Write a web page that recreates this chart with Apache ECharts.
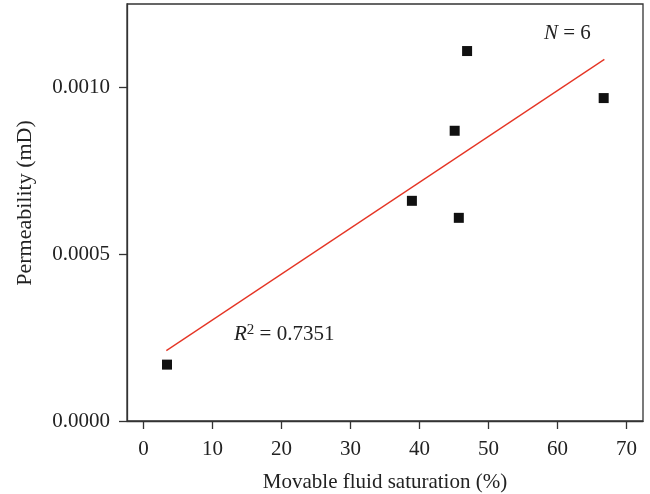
<!DOCTYPE html>
<html>
<head>
<meta charset="utf-8">
<script src="https://cdn.jsdelivr.net/npm/echarts@6/dist/echarts.min.js"></script>
<style>
  html, body { margin: 0; padding: 0; background: #fff; }
  #chart { width: 650px; height: 494px; }
</style>
</head>
<body>
<div id="chart"></div>
<script>
// Movable fluid saturation (%) vs permeability (mD)
const saturation = [3.4, 38.9, 45.1, 45.7, 46.9, 66.7];
const permeability = [0.000169, 0.00066, 0.00087, 0.000609, 0.001109, 0.000968];

// Linear fit endpoints
const fitX = [3.3, 66.8];
const fitY = [0.000211, 0.001084];

const xTicks = [0, 10, 20, 30, 40, 50, 60, 70];
const yTicks = [0, 0.0005, 0.0010];

const fontFamily = '"Liberation Serif", "DejaVu Serif", serif';
const ink = '#222';

const chart = echarts.init(document.getElementById('chart'), null, { renderer: 'canvas' });

chart.setOption({
  animation: false,
  backgroundColor: '#fff',
  textStyle: { fontFamily: fontFamily, color: ink },
  grid: {
    left: 127, right: 7, top: 4, bottom: 73,
    outerBoundsMode: 'none',
    containLabel: false,
    show: true, borderColor: '#333', borderWidth: 1.3, backgroundColor: 'transparent'
  },
  xAxis: {
    type: 'value',
    min: -2.4, max: 72.4,
    axisLine: { show: true, onZero: false, lineStyle: { color: '#333', width: 1.3 } },
    axisTick: { show: true, customValues: xTicks, length: 8, inside: false, lineStyle: { color: '#333', width: 1.3 } },
    axisLabel: { customValues: xTicks, margin: 18, fontSize: 21, color: ink, fontFamily: fontFamily },
    splitLine: { show: false },
    name: 'Movable fluid saturation (%)',
    nameLocation: 'middle',
    nameGap: 51,
    nameTextStyle: { fontSize: 21, color: ink, fontFamily: fontFamily }
  },
  yAxis: {
    type: 'value',
    min: 0, max: 0.00125,
    axisLine: { show: true, onZero: false, lineStyle: { color: '#333', width: 1.3 } },
    axisTick: { show: true, customValues: yTicks, length: 8, lineStyle: { color: '#333', width: 1.3 } },
    axisLabel: {
      customValues: yTicks, margin: 17, fontSize: 21, color: ink, fontFamily: fontFamily,
      formatter: v => v.toFixed(4)
    },
    splitLine: { show: false }
  },
  graphic: [
    {
      type: 'text', x: 25, y: 203, rotation: Math.PI / 2,
      style: { text: 'Permeability (mD)', font: '22px ' + fontFamily, fill: ink, textAlign: 'center', textVerticalAlign: 'middle' }
    },
    {
      type: 'text', x: 544, y: 33,
      style: {
        text: '{i|N} = 6',
        textVerticalAlign: 'middle',
        fill: ink,
        font: '21px ' + fontFamily,
        rich: { i: { fontStyle: 'italic', fontSize: 21, fontFamily: fontFamily, fill: ink } }
      }
    },
    {
      type: 'text', x: 234, y: 334,
      style: {
        text: '{i|R}{s|2}{n| = 0.7351}',
        textVerticalAlign: 'middle',
        fill: ink,
        font: '21px ' + fontFamily,
        rich: {
          i: { fontStyle: 'italic', fontSize: 21, fontFamily: fontFamily, fill: ink },
          s: { fontSize: 15, fontFamily: fontFamily, fill: ink, padding: [0, 0, 8, 0] },
          n: { fontSize: 21, fontFamily: fontFamily, fill: ink }
        }
      }
    }
  ],
  series: [
    {
      type: 'line',
      data: fitX.map((x, i) => [x, fitY[i]]),
      showSymbol: false,
      lineStyle: { color: '#e53525', width: 1.3 },
      z: 2
    },
    {
      type: 'scatter',
      data: saturation.map((x, i) => [x, permeability[i]]),
      symbol: 'rect',
      symbolSize: 10,
      itemStyle: { color: '#111', opacity: 1 },
      z: 3
    }
  ]
});
</script>
</body>
</html>
